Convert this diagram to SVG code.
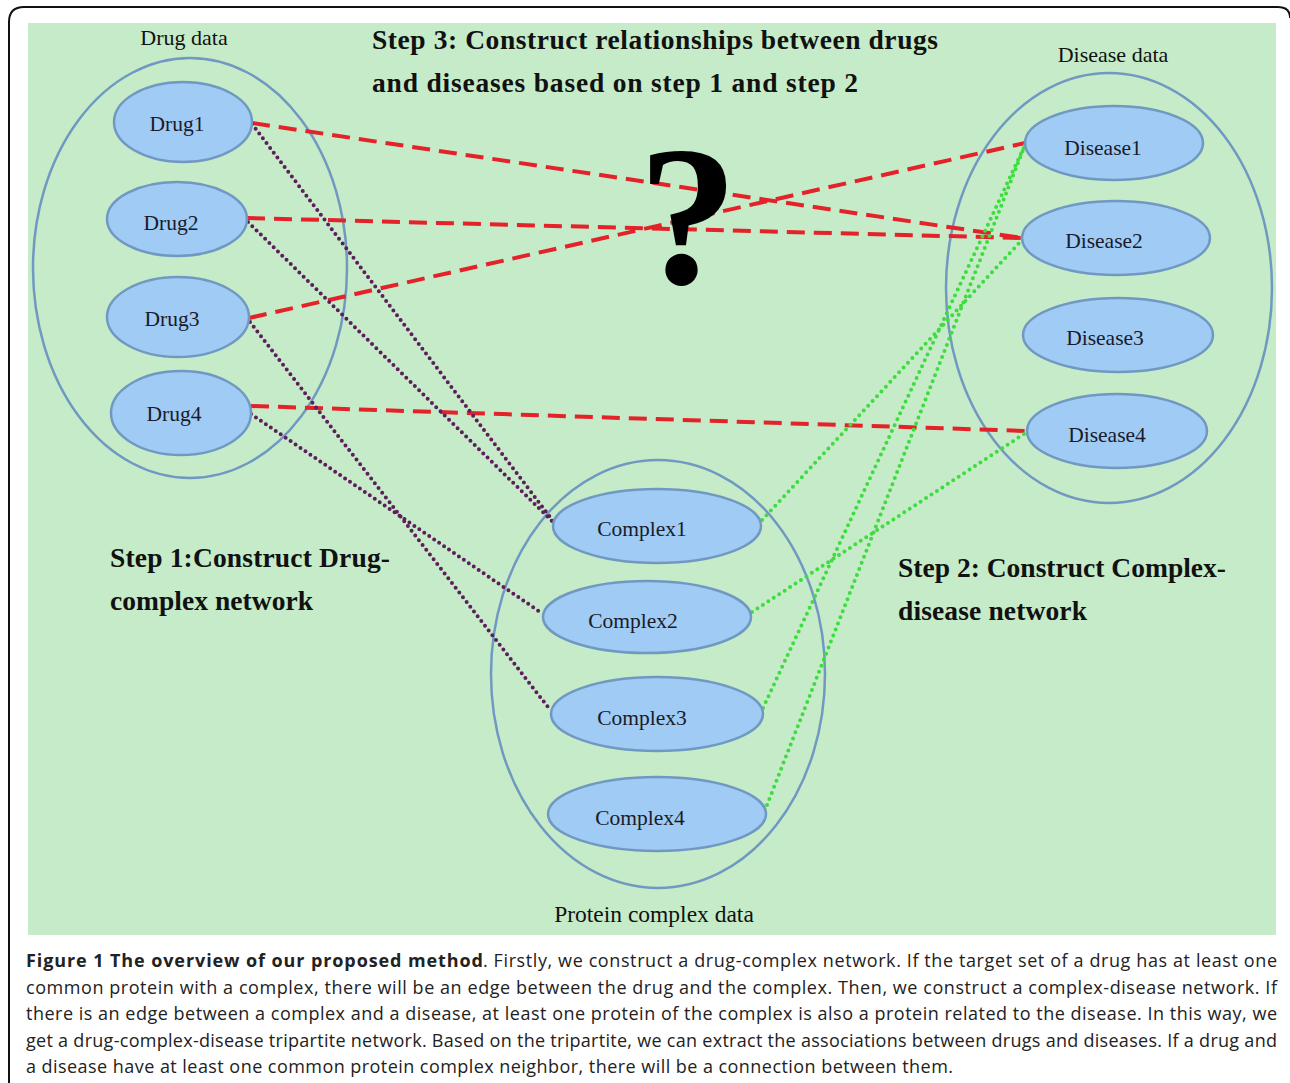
<svg xmlns="http://www.w3.org/2000/svg" width="1290" height="1083" viewBox="0 0 1290 1083">
<style>
.bg{fill:#c6ebc8}
.grp{fill:none;stroke:#7099c2;stroke-width:2.5}
.node{fill:#9fcbf4;stroke:#7099c2;stroke-width:2.5}
.lbl{font-family:"Liberation Serif",serif;font-size:21.5px;fill:#1a1a2a;text-anchor:middle}
.glbl{font-family:"Liberation Serif",serif;font-size:22px;fill:#111;text-anchor:middle}
.step{font-family:"Liberation Serif",serif;font-size:27.5px;font-weight:bold;fill:#111}
.red{stroke:#e4222a;stroke-width:4;stroke-dasharray:18 9;fill:none}
.pur{stroke:#5c1f5c;stroke-width:4;stroke-dasharray:0 6;stroke-linecap:round;fill:none}
.grn{stroke:#3fdc3f;stroke-width:4;stroke-dasharray:0 6.5;stroke-linecap:round;fill:none}
.cap{font-family:"Open Sans","Liberation Sans",sans-serif;font-size:18px;fill:#222}
</style>
<rect width="1290" height="1083" fill="#ffffff"/>
<path d="M9,1083 V22 Q9,7 24,7 H1278 Q1290,7 1290,18" fill="none" stroke="#111" stroke-width="2"/>
<rect class="bg" x="28" y="23" width="1248" height="912"/>

<g id="drug-data">
<ellipse class="grp" cx="190" cy="268" rx="157" ry="210"/>
<text class="glbl" x="184" y="45">Drug data</text>
</g>
<g id="disease-data">
<ellipse class="grp" cx="1109" cy="288" rx="163" ry="215"/>
<text class="glbl" x="1113" y="62">Disease data</text>
</g>
<g id="complex-data">
<ellipse class="grp" cx="658" cy="674" rx="167" ry="214"/>
<text class="glbl" x="654" y="922" style="font-size:23.5px">Protein complex data</text>
</g>

<g id="connectors">
<line class="red" x1="252" y1="123" x2="1022" y2="238"/>
<line class="red" x1="247" y1="218" x2="1022" y2="238"/>
<line class="red" x1="249" y1="318" x2="1025" y2="143"/>
<line class="red" x1="251" y1="406" x2="1027" y2="431"/>
<line class="pur" x1="252" y1="124" x2="553" y2="521"/>
<line class="pur" x1="248" y1="222" x2="553" y2="522"/>
<line class="pur" x1="250" y1="322" x2="551" y2="711"/>
<line class="pur" x1="251" y1="414" x2="543" y2="614"/>
<line class="grn" x1="762" y1="520" x2="1022" y2="240"/>
<line class="grn" x1="752" y1="612" x2="1027" y2="432"/>
<line class="grn" x1="763" y1="708" x2="1025" y2="145"/>
<line class="grn" x1="767" y1="805" x2="1025" y2="145"/>
</g>

<g id="drug1"><ellipse class="node" cx="183" cy="122" rx="69" ry="40"/><text class="lbl" x="177" y="131">Drug1</text></g>
<g id="drug2"><ellipse class="node" cx="177" cy="219" rx="70" ry="37"/><text class="lbl" x="171" y="230">Drug2</text></g>
<g id="drug3"><ellipse class="node" cx="178" cy="317" rx="71" ry="40"/><text class="lbl" x="172" y="326">Drug3</text></g>
<g id="drug4"><ellipse class="node" cx="181" cy="413" rx="70" ry="42"/><text class="lbl" x="174" y="421">Drug4</text></g>

<g id="disease1"><ellipse class="node" cx="1114" cy="143" rx="89" ry="37"/><text class="lbl" x="1103" y="155">Disease1</text></g>
<g id="disease2"><ellipse class="node" cx="1116" cy="238" rx="94" ry="37"/><text class="lbl" x="1104" y="248">Disease2</text></g>
<g id="disease3"><ellipse class="node" cx="1118" cy="335" rx="95" ry="37"/><text class="lbl" x="1105" y="345">Disease3</text></g>
<g id="disease4"><ellipse class="node" cx="1117" cy="431" rx="90" ry="37"/><text class="lbl" x="1107" y="442">Disease4</text></g>

<g id="complex1"><ellipse class="node" cx="657" cy="526" rx="104" ry="37"/><text class="lbl" x="642" y="536">Complex1</text></g>
<g id="complex2"><ellipse class="node" cx="647" cy="617" rx="104" ry="36"/><text class="lbl" x="633" y="628">Complex2</text></g>
<g id="complex3"><ellipse class="node" cx="657" cy="714" rx="106" ry="37"/><text class="lbl" x="642" y="725">Complex3</text></g>
<g id="complex4"><ellipse class="node" cx="657" cy="814" rx="109" ry="37"/><text class="lbl" x="640" y="825">Complex4</text></g>

<g id="labels">
<text class="step" x="372" y="49" textLength="566">Step 3: Construct relationships between drugs</text>
<text class="step" x="372" y="92" textLength="486">and diseases based on step 1 and step 2</text>
<text x="688" y="283" style="font-family:'Liberation Serif',serif;font-size:200px;font-weight:bold;fill:#000;text-anchor:middle">?</text>
<text class="step" x="110" y="567" textLength="280">Step 1:Construct Drug-</text>
<text class="step" x="110" y="610" textLength="203">complex network</text>
<text class="step" x="898" y="577" textLength="328">Step 2: Construct Complex-</text>
<text class="step" x="898" y="620" textLength="189">disease network</text>
</g>

<g id="caption">
<text class="cap" x="26" y="967" textLength="457" style="font-weight:bold">Figure 1 The overview of our proposed method</text>
<text class="cap" x="483" y="967" textLength="794">. Firstly, we construct a drug-complex network. If the target set of a drug has at least one</text>
<text class="cap" x="26" y="994" textLength="1251">common protein with a complex, there will be an edge between the drug and the complex. Then, we construct a complex-disease network. If</text>
<text class="cap" x="26" y="1020" textLength="1251">there is an edge between a complex and a disease, at least one protein of the complex is also a protein related to the disease. In this way, we</text>
<text class="cap" x="26" y="1047" textLength="1251">get a drug-complex-disease tripartite network. Based on the tripartite, we can extract the associations between drugs and diseases. If a drug and</text>
<text class="cap" x="26" y="1073" textLength="927">a disease have at least one common protein complex neighbor, there will be a connection between them.</text>
</g>
</svg>
